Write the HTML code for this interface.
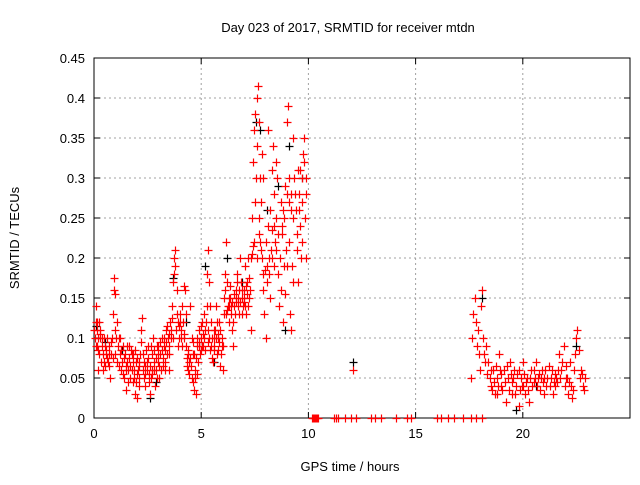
<!DOCTYPE html>
<html><head><meta charset="utf-8"><style>
body{margin:0;background:#fff;font-family:"Liberation Sans",sans-serif;}
svg text{font-family:"Liberation Sans",sans-serif;font-size:13px;fill:#000;}
</style></head><body>
<svg id="chart" width="640" height="480" xmlns="http://www.w3.org/2000/svg"></svg>
<script>
const xTicks=[0,5,10,15,20];
const yTicks=[0,0.05,0.1,0.15,0.2,0.25,0.3,0.35,0.4,0.45];
const yTickLabels=["0","0.05","0.1","0.15","0.2","0.25","0.3","0.35","0.4","0.45"];
const redPoints=[[0.05,.10],[0.08,.12],[0.1,.14],[0.12,.09],[0.15,.11],[0.18,.06],[0.2,.10],[0.22,.12],[0.25,.08],[0.3,.11],[0.32,.07],[0.35,.10],[0.4,.08],[0.42,.06],[0.45,.07],[0.5,.09],[0.55,.08],[0.6,.10],[0.65,.07],[0.7,.09],[0.75,.05],[0.8,.08],[0.85,.10],[0.9,.13],[0.92,.16],[0.95,.175],[0.97,.155],[1.0,.11],[1.05,.12],[1.1,.09],[1.15,.10],[1.2,.08],[1.25,.06],[1.3,.07],[1.35,.09],[1.4,.05],[1.45,.08],[1.5,.035],[1.55,.07],[1.6,.06],[1.65,.09],[1.7,.05],[1.75,.08],[1.8,.045],[1.85,.06],[1.9,.03],[1.95,.07],[2.0,.025],[2.05,.06],[2.1,.04],[2.15,.08],[2.2,.11],[2.25,.125],[2.3,.06],[2.35,.05],[2.4,.04],[2.45,.07],[2.5,.09],[2.55,.055],[2.6,.03],[2.65,.05],[2.7,.08],[2.75,.10],[2.8,.07],[2.85,.04],[2.9,.06],[2.95,.09],[3.0,.07],[3.05,.05],[3.1,.08],[3.15,.10],[3.2,.065],[3.25,.09],[3.3,.06],[3.35,.11],[3.4,.08],[3.45,.10],[3.5,.09],[3.55,.12],[3.6,.10],[3.65,.14],[3.7,.17],[3.72,.18],[3.75,.2],[3.78,.19],[3.8,.21],[3.85,.16],[3.9,.12],[3.95,.10],[4.0,.13],[4.05,.11],[4.1,.09],[4.15,.12],[4.2,.165],[4.25,.16],[4.3,.13],[4.35,.075],[4.4,.06],[4.45,.07],[4.5,.14],[4.55,.05],[4.6,.08],[4.65,.035],[4.7,.06],[4.75,.03],[4.8,.09],[4.85,.07],[4.9,.11],[4.95,.08],[5.0,.10],[5.05,.12],[5.1,.09],[5.15,.13],[5.2,.11],[5.25,.18],[5.3,.21],[5.35,.17],[5.4,.14],[5.45,.12],[5.5,.10],[5.55,.07],[5.6,.09],[5.65,.11],[5.7,.14],[5.75,.08],[5.8,.10],[5.85,.12],[5.9,.065],[5.95,.09],[6.0,.06],[6.05,.13],[6.1,.18],[6.15,.22],[6.2,.17],[6.25,.14],[6.3,.12],[6.35,.15],[6.4,.13],[6.45,.11],[6.5,.09],[6.55,.14],[6.6,.16],[6.65,.18],[6.7,.15],[6.75,.13],[6.8,.20],[6.85,.17],[6.9,.15],[6.95,.14],[7.0,.16],[7.05,.19],[7.1,.13],[7.15,.17],[7.2,.20],[7.25,.15],[7.3,.11],[7.35,.25],[7.4,.32],[7.45,.36],[7.5,.38],[7.55,.30],[7.6,.34],[7.62,.4],[7.65,.415],[7.7,.37],[7.72,.22],[7.75,.30],[7.8,.27],[7.82,.33],[7.85,.2],[7.9,.16],[7.95,.13],[8.0,.10],[8.05,.19],[8.1,.24],[8.15,.18],[8.2,.26],[8.25,.21],[8.3,.31],[8.35,.34],[8.4,.28],[8.45,.22],[8.5,.25],[8.55,.3],[8.6,.18],[8.65,.14],[8.7,.27],[8.75,.23],[8.8,.26],[8.85,.19],[8.9,.155],[8.95,.21],[9.0,.37],[9.05,.39],[9.1,.27],[9.15,.13],[9.2,.11],[9.25,.19],[9.3,.35],[9.35,.3],[9.4,.26],[9.45,.23],[9.5,.17],[9.55,.28],[9.6,.31],[9.65,.2],[9.7,.22],[9.75,.33],[9.8,.35],[9.85,.25],[9.9,.2],
[7.5,.27],[7.9,.3],[8.1,.36],[8.3,.2],[8.5,.32],[8.7,.16],[8.9,.29],[9.1,.22],[9.3,.17],[9.5,.31],[9.7,.27],[9.9,.30],[8.0,.22],[8.4,.19],[8.8,.12],[9.2,.26],[9.6,.24],[7.7,.25],[8.2,.15],[9.0,.28],
[0.3,.1],[0.6,.075],[1.2,.1],[1.5,.06],[1.8,.07],[2.1,.07],[2.4,.065],[2.7,.06],[3.0,.09],[3.3,.085],[4.4,.085],[4.8,.055],[5.0,.085],[5.3,.095],[5.8,.085],[6.3,.14],[6.6,.145],[7.0,.145],[1.0,.08],[2.0,.055],[3.5,.06],[4.2,.1],[4.6,.095],[5.6,.1],
[10.15,0],[10.2,0],[10.25,0],[10.3,0],[10.35,0],[10.4,0],[10.45,0],[11.2,0],[11.3,0],[11.4,0],[11.7,0],[12.0,0],[12.2,0],[12.9,0],[13.1,0],[13.4,0],[14.1,0],[14.6,0],[14.8,0],[16.0,0],[16.2,0],[16.5,0],[16.8,0],[17.2,0],[17.6,0],[17.8,0],[18.1,0],[12.1,.06],
[17.6,.05],[17.65,.1],[17.7,.13],[17.75,.15],[17.8,.12],[17.85,.09],[17.9,.11],[17.95,.08],[18.0,.06],[18.05,.14],[18.1,.16],[18.15,.1],[18.2,.08],
[18.3,.09],[18.4,.07],[18.5,.04],[18.6,.06],[18.7,.03],[18.8,.05],[18.9,.08],[19.0,.04],[19.1,.06],[19.2,.02],[19.3,.05],[19.4,.07],[19.5,.03],[19.6,.06],[19.7,.04],[19.8,.015],[19.9,.05],[20.0,.07],[20.1,.03],[20.2,.05],[20.3,.02],[20.4,.06],[20.5,.045],[20.6,.07],[20.7,.05],[20.8,.035],[20.9,.06],[21.0,.05],[21.1,.04],[21.2,.065],[21.3,.05],[21.4,.03],[21.5,.055],[21.6,.045],[21.7,.08],[21.8,.06],[21.9,.09],[22.0,.05],[22.1,.03],[22.2,.07],[22.3,.025],[22.4,.06],[22.5,.1],[22.55,.11],[22.6,.085],[22.7,.06],[22.8,.04],[22.9,.05],
[18.5,.06],[19.0,.055],[19.5,.045],[20.0,.04],[20.5,.06],[21.0,.03],[21.5,.04],[22.0,.065],[18.8,.03],[19.8,.06]];
const redExtra=[[0.02,.11],[0.07,.09],[0.13,.12],[0.17,.085],[0.27,.105],[0.37,.09],[0.47,.1],[0.52,.065],[0.58,.085],[0.68,.08],[0.72,.065],[0.78,.095],[0.88,.075],[1.02,.1],[1.08,.07],[1.18,.065],[1.28,.085],[1.33,.055],[1.42,.075],[1.48,.065],[1.52,.09],[1.58,.045],[1.62,.075],[1.68,.065],[1.72,.085],[1.78,.06],[1.82,.08],[1.88,.05],[1.92,.085],[1.98,.045],[2.02,.075],[2.08,.065],[2.12,.05],[2.18,.095],[2.28,.08],[2.32,.07],[2.38,.055],[2.42,.085],[2.48,.06],[2.52,.075],[2.58,.045],[2.62,.065],[2.68,.09],[2.72,.055],[2.78,.085],[2.82,.06],[2.88,.075],[2.92,.05],[2.98,.08],[3.02,.065],[3.08,.095],[3.12,.06],[3.18,.085],[3.22,.075],[3.28,.1],[3.32,.07],[3.38,.095],[3.42,.115],[3.48,.08],[3.52,.105],[3.58,.11],[3.62,.125],[3.68,.1],[3.82,.11],[3.88,.13],[3.92,.09],[3.98,.115],[4.02,.12],[4.08,.1],[4.12,.14],[4.18,.105],[4.28,.09],[4.32,.065],[4.38,.08],[4.42,.055],[4.48,.075],[4.52,.065],[4.58,.1],[4.62,.045],[4.68,.08],[4.72,.05],[4.78,.075],[4.82,.1],[4.88,.09],[4.92,.095],[4.98,.115],[5.02,.09],[5.08,.105],[5.12,.1],[5.18,.085],[5.22,.12],[5.28,.14],[5.32,.11],[5.38,.1],[5.42,.085],[5.48,.09],[5.52,.075],[5.58,.11],[5.62,.085],[5.68,.1],[5.72,.12],[5.78,.105],[5.82,.095],[5.88,.11],[5.92,.08],[5.98,.1],[6.02,.09],[6.08,.15],[6.12,.16],[6.18,.13],[6.22,.135],[6.28,.15],[6.32,.165],[6.38,.14],[6.42,.145],[6.48,.12],[6.52,.155],[6.58,.13],[6.62,.15],[6.68,.17],[6.72,.14],[6.78,.16],[6.82,.145],[6.88,.13],[6.92,.16],[6.98,.15],[7.02,.14],[7.08,.165],[7.12,.155],[7.18,.14],[7.22,.175],[7.28,.16],[7.32,.2],[7.38,.205],[7.42,.215],[7.48,.22],[7.58,.2],[7.68,.23],[7.78,.21],[7.88,.18],[7.98,.185],[8.08,.17],[8.18,.2],[8.28,.235],[8.38,.24],[8.48,.21],[8.58,.23],[8.68,.2],[8.78,.24],[8.88,.25],[8.98,.19],[9.08,.3],[9.18,.28],[9.28,.25],[9.38,.28],[9.48,.21],[9.58,.26],[9.68,.3],[9.78,.32],[9.88,.28],
[18.25,.07],[18.35,.055],[18.45,.05],[18.55,.035],[18.65,.045],[18.75,.065],[18.85,.04],[18.95,.06],[19.05,.035],[19.15,.045],[19.25,.065],[19.35,.035],[19.45,.055],[19.55,.05],[19.65,.03],[19.75,.055],[19.85,.035],[19.95,.04],[20.05,.055],[20.15,.045],[20.25,.035],[20.35,.05],[20.45,.04],[20.55,.05],[20.65,.04],[20.75,.055],[20.85,.05],[20.95,.045],[21.05,.06],[21.15,.05],[21.25,.04],[21.35,.06],[21.45,.045],[21.55,.05],[21.65,.06],[21.75,.05],[21.85,.07],[21.95,.04],[22.05,.05],[22.15,.045],[22.25,.04],[22.35,.035],[22.45,.08],[22.65,.05],[22.75,.055],[22.85,.035]];
const blackPoints=[[0.1,.115],[0.5,.095],[1.3,.085],[2.6,.025],[3.7,.175],[4.3,.12],[5.2,.19],[6.2,.2],[6.9,.17],[7.55,.37],[7.75,.36],[8.05,.26],[8.6,.29],[9.1,.34],[9.7,.3],[12.1,.07],[18.1,.15],[19.7,.01],[20.6,.04],[22.5,.09],[2.9,.045],[5.6,.07],[8.9,.11]];
const svg=document.getElementById('chart');
const NS='http://www.w3.org/2000/svg';
const L=94,R=630,T=58,B=418;
const xs=t=>L+t/25*(R-L);
const ys=v=>B-v/0.45*(B-T);
function mk(tag,attrs,parent){const e=document.createElementNS(NS,tag);for(const k in attrs)e.setAttribute(k,attrs[k]);(parent||svg).appendChild(e);return e;}
const grid=mk('g',{});


xTicks.forEach(t=>{if(t>0)mk('line',{x1:xs(t),x2:xs(t),y1:T,y2:B,stroke:'#a0a0a0','stroke-dasharray':'2,3'},grid);
 mk('line',{x1:xs(t),x2:xs(t),y1:B,y2:B-6,stroke:'#000'},grid);mk('line',{x1:xs(t),x2:xs(t),y1:T,y2:T+6,stroke:'#000'},grid);
 const tx=mk('text',{x:xs(t),y:B+20,'text-anchor':'middle'});tx.textContent=t;
 
 });
yTicks.forEach((v,i)=>{if(v>0&&v<0.45)mk('line',{x1:L,x2:R,y1:ys(v),y2:ys(v),stroke:'#a0a0a0','stroke-dasharray':'2,3'},grid);
 mk('line',{x1:L,x2:L+6,y1:ys(v),y2:ys(v),stroke:'#000'},grid);mk('line',{x1:R,x2:R-6,y1:ys(v),y2:ys(v),stroke:'#000'},grid);
 const tx=mk('text',{x:L-9,y:ys(v)+5,'text-anchor':'end'});tx.textContent=yTickLabels[i];
 
 });
const frame=mk('rect',{x:L,y:T,width:R-L,height:B-T,fill:'none',stroke:'#000'});


function drawSeries(pts,color,name){const g=mk('g',{stroke:color,'stroke-width':1.2});
 
 
 pts.forEach(p=>{const x=Math.round(xs(p[0]))+0.5,y=Math.round(ys(p[1]))+0.5;mk('path',{d:`M${x-4},${y}h8M${x},${y-4}v8`},g);});}
drawSeries(blackPoints,'#000','series-black');
drawSeries(redPoints,'#f00','series-red');
drawSeries(redExtra,'#f00','series-red-extra');
const title=mk('text',{x:348,y:32,'text-anchor':'middle'});title.textContent='Day 023 of 2017, SRMTID for receiver mtdn';


const xl=mk('text',{x:350,y:471,'text-anchor':'middle'});xl.textContent='GPS time / hours';


const yl=mk('text',{x:0,y:0,'text-anchor':'middle',transform:'translate(19,238) rotate(-90)'});yl.textContent='SRMTID / TECUs';


</script>
</body></html>
